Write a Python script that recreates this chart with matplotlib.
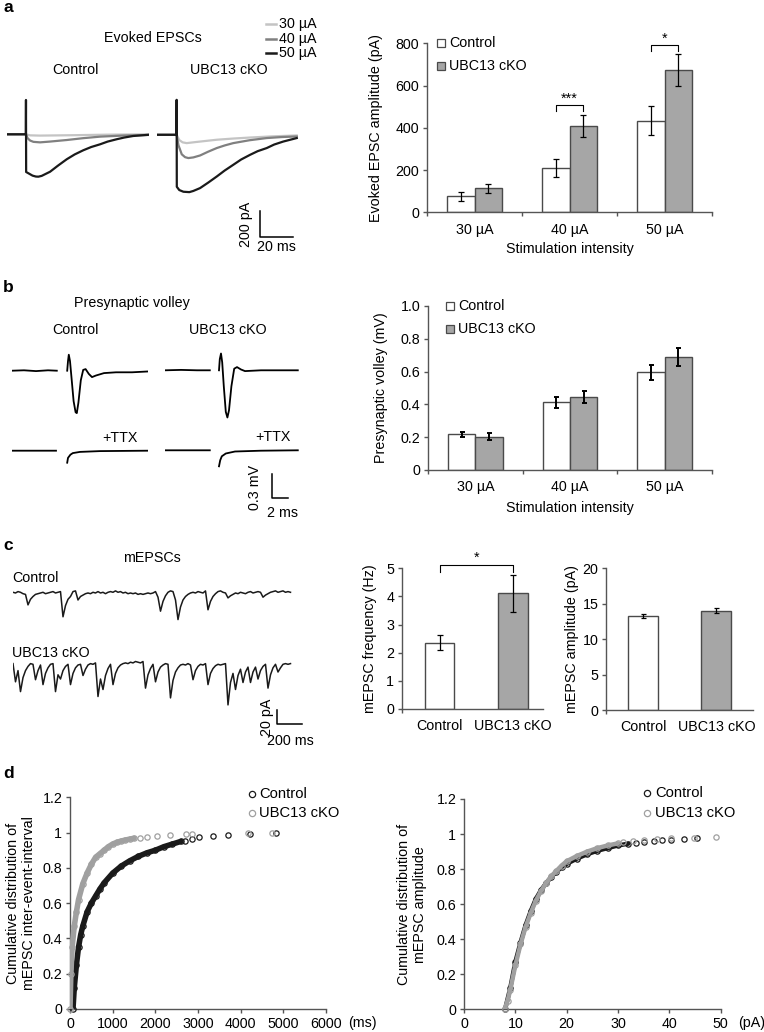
import numpy as np
import matplotlib
matplotlib.use("Agg")
import matplotlib.pyplot as plt
from matplotlib.lines import Line2D

# ======================= DATA =======================
# Panel a: example evoked EPSC traces (time ms, current pA)
ctrl30_t = [0, 11.5, 14, 20, 40, 60, 85.6]
ctrl30_i = [0, 0, -8, -10, -7, -3, 0]
ctrl40_t = [0, 11.5, 12.5, 14, 16, 20, 26, 36.2, 46, 56.4, 70, 85.6]
ctrl40_i = [0, 0, -30, -48, -58, -62, -56, -44, -30, -18, -10, -5]
ctrl50_t = [0, 11.4, 11.5, 11.6, 13, 15.5, 17.5, 19, 21, 26.1, 31, 36.2, 41, 46.2, 51, 56.4, 61, 66.5, 71, 76.5, 85.6]
ctrl50_i = [0, 0, 264, -290, -300, -318, -325, -326, -320, -288, -240, -192, -155, -123, -98, -77, -56, -38, -25, -13, -4]
cko30_t = [0, 11.9, 13.5, 15.5, 18, 24, 36.2, 46, 56.4, 70, 84.7]
cko30_i = [0, 0, -40, -58, -64, -55, -38, -29, -21, -12, -5]
cko40_t = [0, 11.9, 13, 15, 17, 19, 22, 26.1, 31, 36.2, 41, 46.2, 56, 66.5, 76, 84.7]
cko40_i = [0, 0, -80, -150, -172, -179, -174, -159, -130, -102, -82, -64, -42, -25, -17, -13]
cko50_t = [0, 11.8, 11.9, 12.0, 13.5, 16, 19.6, 22, 26.1, 31, 36.2, 41, 46.2, 51, 56.4, 61, 66.5, 71, 76.5, 84.7]
cko50_i = [0, 0, 269, -400, -425, -438, -441, -432, -410, -368, -321, -275, -231, -190, -154, -126, -102, -75, -52, -25]

stim_labels = ['30 µA', '40 µA', '50 µA']
trace_legend = ['30 µA', '40 µA', '50 µA']
epsc_ctrl = [75, 208, 434]
epsc_ctrl_err = [20, 43, 70]
epsc_cko = [114, 410, 675]
epsc_cko_err = [22, 52, 75]

# Panel b: presynaptic volley traces (time ms, mV); nan = gap
nan = np.nan
vol_ctrl_t = [0, 1.5, 3, 4.5, 5.6, nan, 6.9, 7.0, 7.1, 7.25, 7.45, 7.7, 7.95, 8.1, 8.3, 8.6, 8.9, 9.2, 9.6, 10.0, 10.5, 11.5, 13, 15, 16.9]
vol_ctrl_v = [0, 0.005, -0.005, 0.005, 0, nan, 0, 0.12, 0.2, 0.12, -0.1, -0.38, -0.52, -0.53, -0.4, -0.12, 0.01, 0.02, -0.04, -0.08, -0.06, -0.03, -0.02, -0.02, -0.01]
ttx_ctrl_t = [0, 2, 4, 5.5, nan, 6.9, 7.0, 7.3, 7.6, 8.5, 11, 16.9]
ttx_ctrl_v = [0, 0, 0, 0, nan, -0.15, -0.09, -0.05, -0.03, -0.015, -0.005, 0]
vol_cko_t = [0, 2, 4, 5.6, nan, 6.75, 6.85, 7.0, 7.15, 7.35, 7.6, 7.8, 8.0, 8.3, 8.65, 9.0, 9.5, 10.0, 12, 14, 16.6]
vol_cko_v = [0, 0.005, 0, 0, nan, 0, 0.14, 0.21, 0.1, -0.2, -0.52, -0.59, -0.5, -0.2, 0.02, 0.04, 0.01, -0.01, 0, 0, 0]
ttx_cko_t = [0, 2, 4, 5.6, nan, 6.75, 6.9, 7.1, 7.6, 8.75, 12, 16.6]
ttx_cko_v = [0, 0, 0, 0, nan, -0.2, -0.125, -0.075, -0.04, -0.015, -0.005, 0]

volley_ctrl = [0.217, 0.413, 0.595]
volley_ctrl_err = [0.017, 0.034, 0.046]
volley_cko = [0.203, 0.447, 0.689]
volley_cko_err = [0.020, 0.037, 0.056]

# Panel c: mEPSC traces, one sample every 20 ms (pA)
mepsc_dt = 20
mepsc_ctrl = [1, 0, 2, 1, -1,
              -2, -17, -9, -5, -2, -1, 0, 1, -1, 0, 1, 2, 0, 1, 2,
              -34, -18, -9, -5, 2, 3, -10, -5, -3, -1,
              0, -1, 1, 0, 2, 0, 1, -1, 1, 2,
              1, 3, 1, 2, 0, 1, -1, 0, -1, 0,
              -2, -1, -2, -1, 0, -1, 0, 2, -6, -26, -12, -4, 1, 3, 2, -10, -38, -20, -10, -5,
              -2, 0, 1, 0, 2, 1, 0, 3, -24, -12,
              -5, -1, 2, 3, 1, 0, -7, -4, -2, 0,
              -1, 1, 0, -1, 1, 2, 0, 1, 2, 1,
              -6, -3, -1, 1, 2, 3, 1, 2, 3, 1, 2, 1]
mepsc_cko = [2, -24, -8, -38, -18, -8, -2, 2, 1, -21,
             -8, 0, -28, -12, -4, 1, 2, -38, -14, -20,
             -8, -2, 1, -28, -12, -4, 0, 1, -15, -6,
             0, 2, 1, 3, -45, -20, -35, -15, -5, 1,
             -28, -12, -4, 0, 2, 3, 2, 4, 3, 5,
             4, 3, 5, -33, -14, -5, 1, -24, -10, -3,
             0, 2, 1, -47, -22, -10, -4, 0, 1, 0,
             2, 0, -21, -8, -2, 1, 0, 2, -28, -12,
             -5, -1, 1, 0, 1, 2, -57, -25, -12, -35,
             -15, -6, -25, -10, -3, -25, -10, -3, -20, -8,
             -2, 1, -33, -14, -4, 1, -10, -4, 1, 2, 1, 2]

group_labels = ['Control', 'UBC13 cKO']
freq = [2.36, 4.11]
freq_err = [0.28, 0.66]
amp = [13.27, 14.02]
amp_err = [0.35, 0.33]

# Panel d: cumulative distributions
iei_ctrl_x = [70, 100, 150, 200, 250, 300, 400, 500, 600, 700, 800, 1000, 1200, 1400, 1600, 1800, 2000, 2200, 2400, 2600]
iei_ctrl_y = [0, 0.12, 0.25, 0.35, 0.42, 0.47, 0.55, 0.60, 0.64, 0.68, 0.715, 0.77, 0.81, 0.84, 0.865, 0.885, 0.90, 0.92, 0.935, 0.95]
iei_ctrl_tail_x = [2700, 2850, 3030, 3360, 3710, 4230, 4830]
iei_ctrl_tail_y = [0.955, 0.965, 0.975, 0.98, 0.985, 0.99, 0.995]
iei_cko_x = [0, 20, 50, 100, 150, 200, 300, 400, 500, 600, 700, 800, 900, 1000, 1100, 1200, 1300, 1400, 1500]
iei_cko_y = [0, 0.2, 0.35, 0.47, 0.55, 0.62, 0.71, 0.77, 0.82, 0.86, 0.88, 0.90, 0.92, 0.935, 0.945, 0.952, 0.958, 0.963, 0.968]
iei_cko_tail_x = [1640, 1800, 2030, 2340, 2730, 2850, 4180, 4730]
iei_cko_tail_y = [0.972, 0.977, 0.982, 0.986, 0.99, 0.993, 0.997, 0.998]

amp_ctrl_x = [8.0, 9, 10, 11, 12, 13, 14, 15, 16, 17, 18, 19, 20, 22, 24, 26, 28, 30, 32]
amp_ctrl_y = [0, 0.12, 0.27, 0.38, 0.48, 0.56, 0.63, 0.68, 0.72, 0.755, 0.785, 0.81, 0.83, 0.86, 0.885, 0.905, 0.92, 0.935, 0.945]
amp_ctrl_tail_x = [33.5, 35, 37, 38.5, 40.3, 42.8, 45.3]
amp_ctrl_tail_y = [0.95, 0.955, 0.96, 0.965, 0.967, 0.972, 0.975]
amp_cko_x = [7.9, 8.5, 9, 10, 11, 12, 13, 14, 15, 16, 17, 18, 19, 20, 22, 24, 26, 28, 30]
amp_cko_y = [0, 0.05, 0.11, 0.25, 0.37, 0.47, 0.55, 0.62, 0.675, 0.72, 0.76, 0.79, 0.82, 0.845, 0.875, 0.90, 0.92, 0.935, 0.947]
amp_cko_tail_x = [31, 33, 35, 37.6, 40.4, 44.8, 49.1]
amp_cko_tail_y = [0.955, 0.962, 0.968, 0.972, 0.976, 0.98, 0.985]

# ======================= STYLE =======================
plt.rcParams['font.family'] = ['Liberation Sans', 'DejaVu Sans']
plt.rcParams['font.size'] = 10.3
FS = 10.3
W, H = 764, 1032
fig = plt.figure(figsize=(W / 100, H / 100), dpi=100)
AXC = '#555555'
EDGE = '#4a4a4a'
GRAY = '#a6a6a6'
C30, C40, C50 = '#c4c4c4', '#808080', '#1a1a1a'
CTRL_M, CKO_M = '#1a1a1a', '#a0a0a0'


def box(x0, y0, x1, y1):
    return [x0 / W, 1 - y1 / H, (x1 - x0) / W, (y1 - y0) / H]


def ftext(x, y, s, **kw):
    kw.setdefault('ha', 'center')
    kw.setdefault('va', 'center')
    fig.text(x / W, 1 - y / H, s, **kw)


def fmarker(x, y, **kw):
    fig.add_artist(Line2D([x / W], [1 - y / H], transform=fig.transFigure, **kw))


def fline(xs, ys, **kw):
    fig.add_artist(Line2D([v / W for v in xs], [1 - v / H for v in ys], transform=fig.transFigure, **kw))


def style(ax):
    for s in ['top', 'right']:
        ax.spines[s].set_visible(False)
    for s in ['left', 'bottom']:
        ax.spines[s].set_color(AXC)
        ax.spines[s].set_linewidth(1.0)
    ax.tick_params(direction='out', length=3, width=1, color=AXC, pad=2.5, labelsize=FS)


def ylab(ax, text, px, left, right):
    ax.set_ylabel(text, va='center', ha='center', multialignment='center')
    ax.yaxis.set_label_coords((px - left) / (right - left), 0.5)


# panel letters
for letter, y in [('a', 8), ('b', 288), ('c', 545), ('d', 773)]:
    ftext(3, y, letter, ha='left', fontweight='bold', fontsize=12.5)

# ---------------- Panel a traces ----------------
ftext(153, 38, 'Evoked EPSCs')
ftext(75, 70, 'Control')
ftext(229, 70, 'UBC13 cKO')
for lab, col, y in zip(trace_legend, [C30, C40, C50], [24, 39, 53]):
    fline([266, 276], [y, y], color=col, lw=1.8)
    ftext(279, y, lab, ha='left')

axc = fig.add_axes(box(7, 95.3, 148.9, 238.3))
axk = fig.add_axes(box(157, 95.8, 298.9, 238.8))
for ax, series in [(axc, [(ctrl30_t, ctrl30_i, C30), (ctrl40_t, ctrl40_i, C40), (ctrl50_t, ctrl50_i, C50)]),
                   (axk, [(cko30_t, cko30_i, C30), (cko40_t, cko40_i, C40), (cko50_t, cko50_i, C50)])]:
    for t, i, c in series:
        ax.plot(t, i, color=c, lw=1.6, solid_joinstyle='round')
    ax.set_xlim(0, 86)
    ax.set_ylim(-800, 300)
    ax.axis('off')
# scale bar 200 pA / 20 ms
axk.plot([62.4, 62.4, 82.4], [-588, -788, -788], color='k', lw=1.1, clip_on=False)
axk.text(54.0, -688, '200 pA', rotation=90, ha='center', va='center')
axk.text(72.4, -862, '20 ms', ha='center', va='center')

# ---------------- Panel a bars ----------------
def stim_bars(ax, ctrl, ctrl_e, cko, cko_e, ylim, yt, ytl, elw, cap):
    style(ax)
    x = np.arange(3)
    w = 0.29
    ax.bar(x - w / 2, ctrl, w, color='white', edgecolor=EDGE, lw=1, zorder=2)
    ax.bar(x + w / 2, cko, w, color=GRAY, edgecolor=EDGE, lw=1, zorder=2)
    ax.errorbar(x - w / 2, ctrl, yerr=ctrl_e, fmt='none', ecolor='k', elinewidth=elw, capsize=cap, capthick=elw, zorder=3)
    ax.errorbar(x + w / 2, cko, yerr=cko_e, fmt='none', ecolor='k', elinewidth=elw, capsize=cap, capthick=elw, zorder=3)
    ax.set_xlim(-0.5, 2.5)
    ax.set_ylim(*ylim)
    ax.set_yticks(yt)
    ax.set_yticklabels(ytl)
    ax.set_xticks([-0.5, 0.5, 1.5, 2.5])
    ax.set_xticklabels([])
    ax.set_xticks(x, minor=True)
    ax.set_xticklabels(stim_labels, minor=True)
    ax.tick_params(axis='x', which='minor', length=0, pad=7.5)
    return x, w


axa = fig.add_axes(box(427, 43.3, 712, 212.3))
x, w = stim_bars(axa, epsc_ctrl, epsc_ctrl_err, epsc_cko, epsc_cko_err, (0, 800),
                 [0, 200, 400, 600, 800], ['0', '200', '400', '600', '800'], 0.9, 2.5)
ylab(axa, 'Evoked EPSC amplitude (pA)', 376, 427, 712)
axa.set_xlabel('Stimulation intensity', va='center')
axa.xaxis.set_label_coords(0.5, (212.3 - 249) / 169)
axa.plot([1 - w / 2, 1 - w / 2, 1 + w / 2, 1 + w / 2], [480, 508, 508, 480], color='k', lw=0.8, clip_on=False)
axa.text(1, 538, '***', ha='center', va='center')
axa.plot([2 - w / 2, 2 - w / 2, 2 + w / 2, 2 + w / 2], [764, 792, 792, 764], color='k', lw=0.8, clip_on=False)
axa.text(2, 822, '*', ha='center', va='center')
for lab, fc, y in [('Control', 'white', 42.7), ('UBC13 cKO', GRAY, 65.7)]:
    fmarker(441, y, marker='s', ms=5.5, mfc=fc, mec=EDGE, mew=0.9)
    ftext(449, y, lab, ha='left')

# ---------------- Panel b traces ----------------
ftext(132, 303, 'Presynaptic volley')
ftext(75, 330, 'Control')
ftext(228, 330, 'UBC13 cKO')
TTX_OFFSET = -1.0
axbc = fig.add_axes(box(12, 338.7, 148, 506.7))
axbk = fig.add_axes(box(165, 338.3, 301, 506.3))
for ax, (vt, vv, tt, tv) in [(axbc, (vol_ctrl_t, vol_ctrl_v, ttx_ctrl_t, ttx_ctrl_v)),
                             (axbk, (vol_cko_t, vol_cko_v, ttx_cko_t, ttx_cko_v))]:
    ax.plot(vt, vv, color='k', lw=1.3, solid_joinstyle='round')
    ax.plot(tt, np.array(tv) + TTX_OFFSET, color='k', lw=1.3, solid_joinstyle='round')
    ax.set_xlim(0, 17)
    ax.set_ylim(-1.7, 0.4)
    ax.axis('off')
    ax.text(13.5, -0.84, '+TTX', ha='center', va='center')
axbk.plot([13.4, 13.4, 15.4], [-1.3, -1.6, -1.6], color='k', lw=1.1, clip_on=False)
axbk.text(11.3, -1.46, '0.3 mV', rotation=90, ha='center', va='center')
axbk.text(14.75, -1.78, '2 ms', ha='center', va='center')

# ---------------- Panel b bars ----------------
axb = fig.add_axes(box(428, 306, 712, 470))
x, w = stim_bars(axb, volley_ctrl, volley_ctrl_err, volley_cko, volley_cko_err, (0, 1.0),
                 [0, 0.2, 0.4, 0.6, 0.8, 1.0], ['0', '0.2', '0.4', '0.6', '0.8', '1.0'], 1.4, 1.8)
ylab(axb, 'Presynaptic volley (mV)', 381, 428, 712)
axb.set_xlabel('Stimulation intensity', va='center')
axb.xaxis.set_label_coords(0.5, (470 - 508) / 164)
for lab, fc, y in [('Control', 'white', 306), ('UBC13 cKO', GRAY, 329)]:
    fmarker(450, y, marker='s', ms=5.5, mfc=fc, mec=EDGE, mew=0.9)
    ftext(458, y, lab, ha='left')

# ---------------- Panel c traces ----------------
ftext(152, 558, 'mEPSCs')
ftext(12, 578, 'Control', ha='left')
ftext(12, 653, 'UBC13 cKO', ha='left')
CKO_OFFSET = -102.9
axm = fig.add_axes(box(13, 575, 305, 735))
tc = np.arange(len(mepsc_ctrl)) * mepsc_dt
tk = np.arange(len(mepsc_cko)) * mepsc_dt
axm.plot(tc, mepsc_ctrl, color='#1a1a1a', lw=1.1)
axm.plot(tk, np.array(mepsc_cko) + CKO_OFFSET, color='#1a1a1a', lw=1.1)
axm.set_xlim(0, 2336)
axm.set_ylim(-202.9, 25.7)
axm.axis('off')
axm.plot([2112, 2112, 2312], [-167, -187, -187], color='k', lw=1.1, clip_on=False)
axm.text(2035, -177, '20 pA', rotation=90, ha='center', va='center')
axm.text(2216, -212, '200 ms', ha='center', va='center')


# ---------------- Panel c bars ----------------
def two_bars(ax, vals, errs, xlim, w, ylim, yt, cap):
    style(ax)
    x = np.arange(2)
    ax.bar(x, vals, w, color=['white', GRAY], edgecolor=EDGE, lw=1, zorder=2)
    ax.errorbar(x, vals, yerr=errs, fmt='none', ecolor='k', elinewidth=0.9, capsize=cap, capthick=0.9, zorder=3)
    ax.set_xlim(*xlim)
    ax.set_ylim(*ylim)
    ax.set_yticks(yt)
    ax.set_xticks([xlim[0]])
    ax.set_xticklabels([])
    ax.set_xticks(x, minor=True)
    ax.set_xticklabels(group_labels, minor=True)
    ax.tick_params(axis='x', which='minor', length=0, pad=7.5)
    return x


axf = fig.add_axes(box(401.7, 568.3, 543, 709))
xx = two_bars(axf, freq, freq_err, (-0.52, 1.41), 0.4, (0, 5), [0, 1, 2, 3, 4, 5], 2.5)
ylab(axf, 'mEPSC frequency (Hz)', 370, 401.7, 543)
axf.plot([0, 0, 1, 1], [4.88, 5.12, 5.12, 4.88], color='k', lw=0.8, clip_on=False)
axf.text(0.5, 5.38, '*', ha='center', va='center')

axp = fig.add_axes(box(606, 568.3, 753, 710))
two_bars(axp, amp, amp_err, (-0.51, 1.5), 0.41, (0, 20), [0, 5, 10, 15, 20], 1.8)
ylab(axp, 'mEPSC amplitude (pA)', 572, 606, 753)

# ---------------- Panel d ----------------
def cdf_axes(ax, xlim, xt):
    style(ax)
    ax.set_xlim(*xlim)
    ax.set_ylim(0, 1.2)
    ax.set_xticks(xt)
    ax.set_yticks([0, 0.2, 0.4, 0.6, 0.8, 1.0, 1.2])
    ax.set_yticklabels(['0', '0.2', '0.4', '0.6', '0.8', '1', '1.2'])


mk = dict(marker='o', mfc='none', ms=3.8, mew=0.9, ls='none', clip_on=False)

axi = fig.add_axes(box(70, 797.3, 326, 1009))
cdf_axes(axi, (0, 6000), [0, 1000, 2000, 3000, 4000, 5000, 6000])
axi.plot(iei_ctrl_x, iei_ctrl_y, color=CTRL_M, lw=4.0, solid_capstyle='round', zorder=3)
axi.plot(iei_ctrl_x + iei_ctrl_tail_x, iei_ctrl_y + iei_ctrl_tail_y, mec=CTRL_M, zorder=3, **mk)
axi.plot(iei_cko_x, iei_cko_y, color=CKO_M, lw=4.0, solid_capstyle='round', zorder=4)
axi.plot(iei_cko_x + iei_cko_tail_x, iei_cko_y + iei_cko_tail_y, mec=CKO_M, zorder=4, **mk)
ylab(axi, 'Cumulative distribution of\nmEPSC inter-event-interval', 21, 70, 326)
ftext(362, 1023, '(ms)')
for lab, col, y in [('Control', CTRL_M, 794.3), ('UBC13 cKO', CKO_M, 813.3)]:
    fmarker(251.7, y, marker='o', mfc='none', ms=4.5, mew=0.9, mec=col)
    ftext(259, y, lab, ha='left', fontsize=10.6)

axq = fig.add_axes(box(464, 799, 720.7, 1009.3))
cdf_axes(axq, (0, 50), [0, 10, 20, 30, 40, 50])
axq.plot(amp_ctrl_x, amp_ctrl_y, color=CTRL_M, lw=3.2, solid_capstyle='round', zorder=3)
axq.plot(amp_ctrl_x + amp_ctrl_tail_x, amp_ctrl_y + amp_ctrl_tail_y, mec=CTRL_M, zorder=3, **mk)
axq.plot(amp_cko_x, amp_cko_y, color=CKO_M, lw=3.2, solid_capstyle='round', zorder=4)
axq.plot(amp_cko_x + amp_cko_tail_x, amp_cko_y + amp_cko_tail_y, mec=CKO_M, zorder=4, **mk)
ylab(axq, 'Cumulative distribution of\nmEPSC amplitude', 412, 464, 720.7)
ftext(752, 1023, '(pA)')
for lab, col, y in [('Control', CTRL_M, 793.3), ('UBC13 cKO', CKO_M, 813.3)]:
    fmarker(646.7, y, marker='o', mfc='none', ms=4.5, mew=0.9, mec=col)
    ftext(655, y, lab, ha='left', fontsize=10.6)

fig.savefig('out.png', dpi=100)
